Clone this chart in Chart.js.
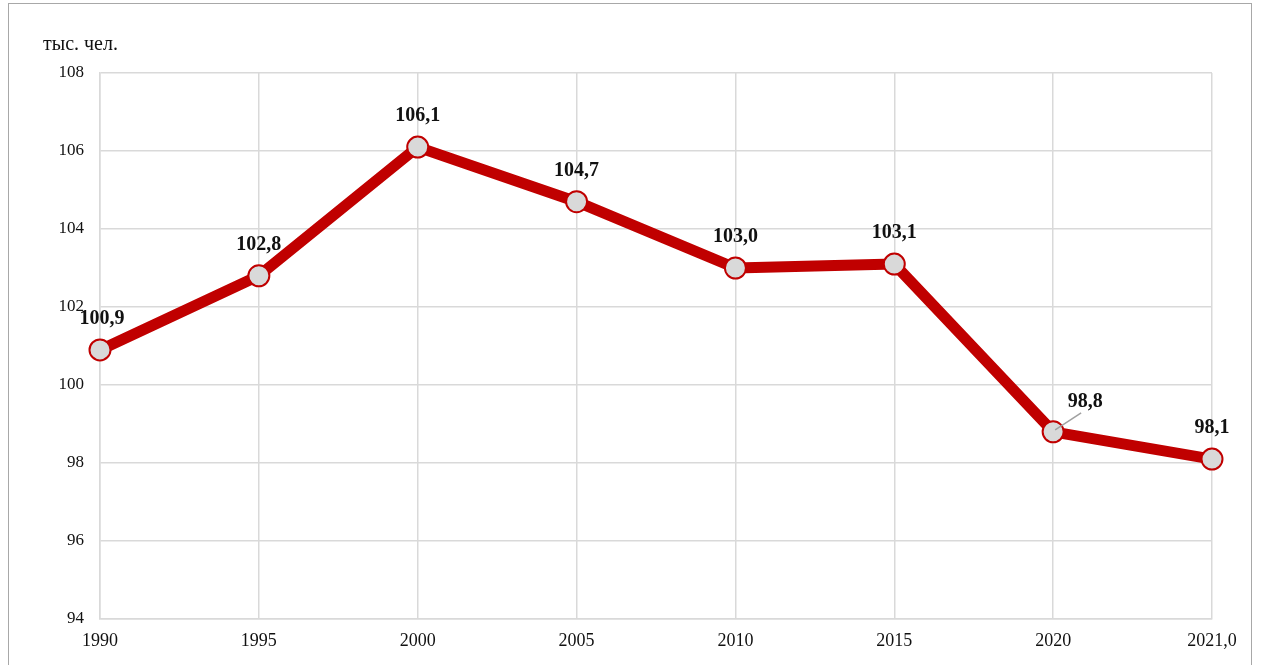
<!DOCTYPE html>
<html>
<head>
<meta charset="utf-8">
<script src="https://cdn.jsdelivr.net/npm/chart.js@4/dist/chart.umd.min.js"></script>
<style>
  html, body { margin: 0; padding: 0; background: #fff; }
  #wrap { position: relative; width: 1261px; height: 665px; }
</style>
</head>
<body>
<div id="wrap"><canvas id="chart"></canvas></div>
<script>
'use strict';

// Population, thousand people
const years  = ['1990', '1995', '2000', '2005', '2010', '2015', '2020', '2021,0'];
const values = [100.9, 102.8, 106.1, 104.7, 103.0, 103.1, 98.8, 98.1];
const yTicks = [94, 96, 98, 100, 102, 104, 106, 108];

const SERIF = '"Liberation Serif", "Times New Roman", serif';

/* ── frame, unit caption and value labels ── */
const decorPlugin = {
    id: 'decor',
    beforeDraw(chart) {
        const c = chart.ctx;
        c.save();
        c.strokeStyle = '#a8a8a8';
        c.lineWidth = 1;
        c.strokeRect(8.5, 3.5, 1243, 700);
        c.fillStyle = '#111';
        c.font = '20px ' + SERIF;
        c.textBaseline = 'middle';
        c.fillText('тыс. чел.', 43, 45);
        c.restore();
    },
    afterDatasetsDraw(chart) {
        const c = chart.ctx;
        const pts = chart.getDatasetMeta(0).data;
        c.save();
        c.font = 'bold 20px ' + SERIF;
        c.fillStyle = '#111';
        c.textAlign = 'center';
        c.textBaseline = 'middle';
        pts.forEach((p, i) => {
            const txt = values[i].toFixed(1).replace('.', ',');
            if (i === 6) {
                // label pushed off to the right with a leader line
                c.strokeStyle = '#a0a0a0';
                c.lineWidth = 1.5;
                c.beginPath();
                c.moveTo(p.x + 2, p.y - 2);
                c.lineTo(p.x + 28, p.y - 19);
                c.stroke();
                c.fillText(txt, p.x + 32, p.y - 30);
            } else {
                c.fillText(txt, p.x + (i === 0 ? 2 : 0), p.y - 31);
            }
        });
        c.restore();
    }
};

new Chart(document.getElementById('chart'), {
    type: 'line',
    data: {
        labels: years,
        datasets: [{
            data: values,
            borderColor: '#c00000',
            borderWidth: 11,
            borderJoinStyle: 'round',
            tension: 0,
            pointRadius: 10.5,
            pointHoverRadius: 10.5,
            pointBackgroundColor: '#d9d9d9',
            pointBorderColor: '#c00000',
            pointBorderWidth: 2
        }]
    },
    options: {
        responsive: true,
        maintainAspectRatio: false,
        animation: false,
        layout: { padding: { top: 73, right: 49, bottom: 0, left: 0 } },
        plugins: { legend: { display: false }, tooltip: { enabled: false } },
        scales: {
            x: {
                offset: false,
                grid: { color: '#d9d9d9', lineWidth: 1.5, drawTicks: false },
                border: { color: '#d9d9d9', width: 1.5 },
                ticks: { color: '#111', font: { family: SERIF, size: 18 }, padding: 11, maxRotation: 0, autoSkip: false },
                afterFit: s => { s.height = 46; }
            },
            y: {
                min: 94, max: 108,
                afterBuildTicks: s => { s.ticks = yTicks.map(v => ({ value: v })); },
                grid: { color: '#d9d9d9', lineWidth: 1.5, drawTicks: false },
                border: { color: '#d9d9d9', width: 1.5 },
                ticks: { color: '#111', font: { family: SERIF, size: 17 }, padding: 16 },
                afterFit: s => { s.width = 100; }
            }
        }
    },
    plugins: [decorPlugin]
});
</script>
</body>
</html>
